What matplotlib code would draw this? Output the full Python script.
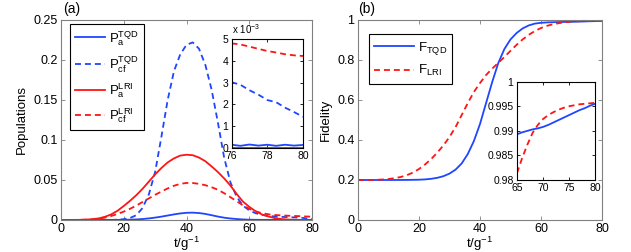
import numpy as np
import matplotlib
matplotlib.use('Agg')
import matplotlib.pyplot as plt
from matplotlib.ticker import FormatStrFormatter

plt.rcParams['font.family'] = ['Liberation Sans', 'DejaVu Sans']
plt.rcParams['mathtext.fontset'] = 'custom'
plt.rcParams['mathtext.rm'] = 'Liberation Sans'
plt.rcParams['mathtext.it'] = 'Liberation Sans:italic'

# time grid (t/g^-1)
t = np.arange(0, 81, 2)

# panel (a): populations
pa_tqd = [0, 0, 0, 0, 0, 0.00002, 0.00003, 0.00005, 0.0001, 0.00015,
          0.0002, 0.0004, 0.0007, 0.0012, 0.002, 0.003, 0.0042, 0.0056, 0.007, 0.0082,
          0.009, 0.0092, 0.0087, 0.0076, 0.006, 0.0043, 0.0029, 0.0019, 0.0012, 0.0007,
          0.0004, 0.00025, 0.0002, 0.00015, 0.00015, 0.00015, 0.00015, 0.00015, 0.00015, 0.00015,
          0.00015]
pcf_tqd = [0, 0, 0, 0, 0, 0, 0, 0, 0, 0.0005,
           0.001, 0.0025, 0.006, 0.015, 0.032, 0.06, 0.104, 0.150, 0.186, 0.207,
           0.219, 0.222, 0.214, 0.194, 0.163, 0.122, 0.078, 0.047, 0.029, 0.018,
           0.012, 0.0085, 0.0065, 0.0052, 0.0045, 0.004, 0.0036, 0.0033, 0.00305, 0.0022,
           0.0014]
pa_lri = [0, 0, 0.0001, 0.0002, 0.0005, 0.001, 0.002, 0.004, 0.007, 0.0115,
          0.0175, 0.024, 0.031, 0.039, 0.048, 0.057, 0.065, 0.072, 0.077, 0.0805,
          0.0816, 0.081, 0.078, 0.0735, 0.067, 0.060, 0.052, 0.043, 0.0325, 0.023,
          0.0165, 0.011, 0.007, 0.0045, 0.0025, 0.0013, 0.0006, 0.0003, 0.0001, 0.00005,
          0.00003]
pcf_lri = [0, 0, 0.0001, 0.0002, 0.0004, 0.0008, 0.0016, 0.003, 0.005, 0.0075,
           0.0105, 0.014, 0.018, 0.0225, 0.027, 0.0315, 0.0355, 0.0395, 0.0428, 0.0452,
           0.0463, 0.0462, 0.0452, 0.0435, 0.041, 0.0378, 0.0335, 0.0285, 0.0235, 0.0183,
           0.014, 0.0108, 0.0086, 0.0072, 0.0063, 0.0058, 0.0054, 0.0051, 0.0048, 0.0044,
           0.0042]

# inset (a), values in units of 1e-3
t_ins_a = [76, 76.5, 77, 77.5, 78, 78.5, 79, 79.5, 80]
ins_pa_tqd = [0.15, 0.10, 0.16, 0.11, 0.15, 0.10, 0.15, 0.11, 0.14]
ins_pcf_tqd = [3.02, 2.9, 2.65, 2.45, 2.2, 2.1, 1.85, 1.65, 1.43]
ins_pa_lri = [0.02, 0.02, 0.02, 0.02, 0.02, 0.02, 0.02, 0.02, 0.02]
ins_pcf_lri = [4.8, 4.75, 4.65, 4.55, 4.45, 4.38, 4.3, 4.25, 4.22]

# panel (b): fidelity
f_tqd = [0.2, 0.2, 0.2, 0.2, 0.2, 0.2, 0.2, 0.2002, 0.2004, 0.2008,
         0.2015, 0.203, 0.206, 0.211, 0.219, 0.232, 0.252, 0.283, 0.33, 0.395,
         0.48, 0.585, 0.69, 0.785, 0.855, 0.903, 0.935, 0.958, 0.973, 0.982,
         0.986, 0.988, 0.989, 0.9897, 0.9903, 0.9908, 0.9917, 0.9927, 0.9937, 0.9946,
         0.9955]
f_lri = [0.2, 0.2, 0.2003, 0.201, 0.2025, 0.205, 0.209, 0.215, 0.224, 0.237,
         0.255, 0.278, 0.305, 0.337, 0.373, 0.415, 0.465, 0.525, 0.585, 0.64,
         0.685, 0.725, 0.757, 0.786, 0.815, 0.846, 0.876, 0.903, 0.926, 0.945,
         0.96, 0.971, 0.979, 0.9845, 0.9896, 0.9924, 0.9938, 0.9947, 0.9952, 0.9955,
         0.9957]

# inset (b)
t_ins_b = np.arange(65, 81, 1)
ins_f_tqd = [0.9893, 0.9897, 0.99, 0.9903, 0.9905, 0.9908, 0.9912, 0.9917,
             0.9922, 0.9927, 0.9932, 0.9937, 0.9942, 0.9946, 0.9951, 0.9955]
ins_f_lri = [0.9814, 0.9845, 0.9872, 0.9896, 0.9912, 0.9924, 0.9932, 0.9938,
             0.9943, 0.9947, 0.995, 0.9952, 0.9954, 0.9955, 0.9956, 0.9957]

BLUE = '#1f45ff'
RED = '#ff1414'
GREY = '#808080'
lw = 1.3
dash = (3.3, 2.2)


def style_axes(ax, frame, size, ticklen):
    for s in ax.spines.values():
        s.set_color(frame)
        s.set_linewidth(0.8)
    ax.tick_params(direction='in', top=True, right=True, length=ticklen,
                   width=0.6, color=frame, labelsize=size, pad=2.5)


fig = plt.figure(figsize=(6.31, 2.52), dpi=100)

# ---------- panel (a)
ax1 = fig.add_axes([61 / 631, 32 / 252, 251 / 631, 200 / 252])
ax1.plot(t, pa_tqd, color=BLUE, lw=lw, label=r'P$_\mathrm{a}^\mathrm{TQD}$')
ax1.plot(t, pcf_tqd, color=BLUE, lw=lw, dashes=dash, label=r'P$_\mathrm{cf}^\mathrm{TQD}$')
ax1.plot(t, pa_lri, color=RED, lw=lw, label=r'P$_\mathrm{a}^\mathrm{LRI}$')
ax1.plot(t, pcf_lri, color=RED, lw=lw, dashes=dash, label=r'P$_\mathrm{cf}^\mathrm{LRI}$')
ax1.set_xlim(0, 80)
ax1.set_ylim(0, 0.25)
ax1.set_xticks([0, 20, 40, 60, 80])
ax1.set_yticks([0, 0.05, 0.1, 0.15, 0.2, 0.25])
ax1.yaxis.set_major_formatter(FormatStrFormatter('%g'))
style_axes(ax1, GREY, 9, 3)
ax1.set_ylabel('Populations', fontsize=9.5, labelpad=4)
ax1.set_xlabel(r't/g$^{-1}$', fontsize=9.5, labelpad=-0.5)
leg1 = ax1.legend(loc='upper left', bbox_to_anchor=(0.036, 0.98), fontsize=9.5,
                  frameon=True, fancybox=False, framealpha=1, edgecolor='black',
                  handlelength=2.3, handletextpad=0.3, labelspacing=0.5,
                  borderpad=0.35, borderaxespad=0)
leg1.get_frame().set_linewidth(0.8)
fig.text(63 / 631, 1 - 9 / 252, '(a)', fontsize=10, va='center', ha='left')

# inset (a)
ia = fig.add_axes([231.5 / 631, 104 / 252, 71.5 / 631, 109 / 252])
ia.plot(t_ins_a, ins_pa_tqd, color=BLUE, lw=lw)
ia.plot(t_ins_a, ins_pcf_tqd, color=BLUE, lw=lw, dashes=dash)
ia.plot(t_ins_a, ins_pa_lri, color=RED, lw=lw)
ia.plot(t_ins_a, ins_pcf_lri, color=RED, lw=lw, dashes=dash)
ia.set_xlim(76, 80)
ia.set_ylim(0, 5)
ia.set_xticks([76, 78, 80])
ia.set_yticks([0, 1, 2, 3, 4, 5])
style_axes(ia, 'black', 7.5, 2)
ia.text(0.0, 1.03, r'x 10$^{-3}$', transform=ia.transAxes, fontsize=7,
        ha='left', va='bottom')

# ---------- panel (b)
ax2 = fig.add_axes([358 / 631, 32 / 252, 244 / 631, 200 / 252])
ax2.plot(t, f_tqd, color=BLUE, lw=lw, label=r'F$_\mathrm{TQD}$')
ax2.plot(t, f_lri, color=RED, lw=lw, dashes=dash, label=r'F$_\mathrm{LRI}$')
ax2.set_xlim(0, 80)
ax2.set_ylim(0, 1)
ax2.set_xticks([0, 20, 40, 60, 80])
ax2.set_yticks([0, 0.2, 0.4, 0.6, 0.8, 1])
ax2.yaxis.set_major_formatter(FormatStrFormatter('%g'))
style_axes(ax2, GREY, 9, 3)
ax2.set_ylabel('Fidelity', fontsize=9.5, labelpad=4)
ax2.set_xlabel(r't/g$^{-1}$', fontsize=9.5, labelpad=-0.5)
leg2 = ax2.legend(loc='upper left', bbox_to_anchor=(0.045, 0.928), fontsize=9.5,
                  frameon=True, fancybox=False, framealpha=1, edgecolor='black',
                  handlelength=3.0, handletextpad=0.3, labelspacing=0.5,
                  borderpad=0.4, borderaxespad=0)
leg2.get_frame().set_linewidth(0.8)
fig.text(358 / 631, 1 - 9 / 252, '(b)', fontsize=10, va='center', ha='left')

# inset (b)
ib = fig.add_axes([517 / 631, 72 / 252, 78 / 631, 98.3 / 252])
ib.plot(t_ins_b, ins_f_tqd, color=BLUE, lw=lw)
ib.plot(t_ins_b, ins_f_lri, color=RED, lw=lw, dashes=dash)
ib.set_xlim(65, 80)
ib.set_ylim(0.98, 1)
ib.set_xticks([65, 70, 75, 80])
ib.set_yticks([0.98, 0.985, 0.99, 0.995, 1])
ib.yaxis.set_major_formatter(FormatStrFormatter('%g'))
style_axes(ib, 'black', 7.5, 2)

fig.savefig('out.png', dpi=100)
